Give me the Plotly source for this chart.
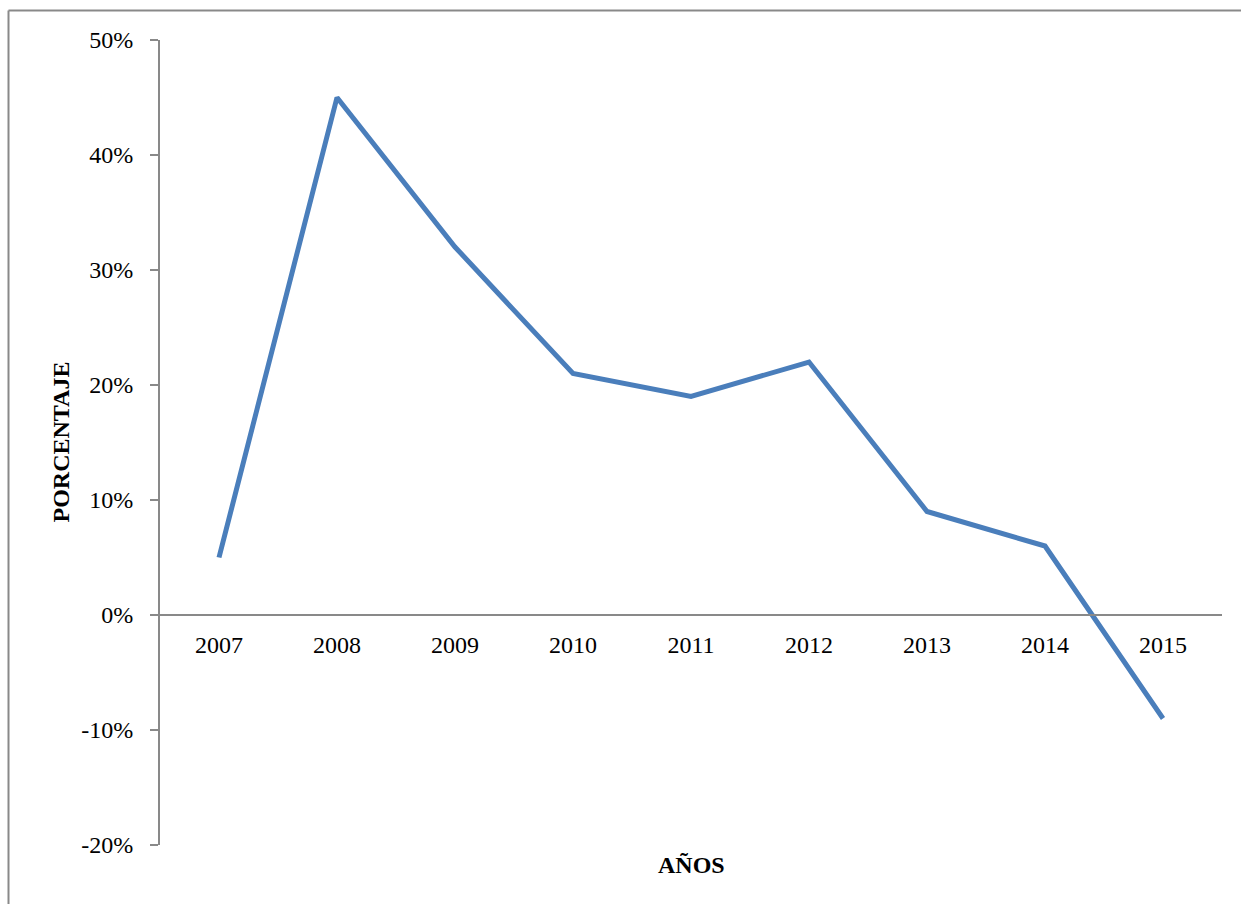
import plotly.graph_objects as go

years = ["2007", "2008", "2009", "2010", "2011", "2012", "2013", "2014", "2015"]
values = [0.05, 0.45, 0.32, 0.21, 0.19, 0.22, 0.09, 0.06, -0.09]
y_ticks = [-0.2, -0.1, 0.0, 0.1, 0.2, 0.3, 0.4, 0.5]
y_tick_labels = ["-20%", "-10%", "0%", "10%", "20%", "30%", "40%", "50%"]

FONT = "Times New Roman, Liberation Serif, serif"
GRAY = "#898989"

fig = go.Figure()
fig.add_trace(go.Scatter(
    x=years, y=values, mode="lines",
    line=dict(color="#4A7EBB", width=5),
    hoverinfo="skip", showlegend=False,
))

L, R, T, B = 160, 20, 40, 60
W, H = 1242, 905
pw, ph = W - L - R, H - T - B
zero_pos = (0 - (-0.2)) / 0.7

fig.update_layout(
    width=W, height=H,
    margin=dict(l=L, r=R, t=T, b=B, pad=0),
    paper_bgcolor="white", plot_bgcolor="white",
    font=dict(family=FONT, size=24, color="black"),
    xaxis=dict(
        type="category", range=[-0.5, 8.5],
        anchor="free", position=zero_pos,
        showline=True, linecolor=GRAY, linewidth=2,
        ticks="", showgrid=False, zeroline=False,
        tickfont=dict(family=FONT, size=24, color="black"),
        ticklabelstandoff=8,
    ),
    yaxis=dict(
        range=[-0.2, 0.5], tickvals=y_ticks, ticktext=y_tick_labels,
        showline=True, linecolor=GRAY, linewidth=2,
        ticks="outside", ticklen=8, tickcolor=GRAY, tickwidth=2,
        showgrid=False, zeroline=False,
        tickfont=dict(family=FONT, size=24, color="black"),
        ticklabelstandoff=12,
    ),
    annotations=[
        dict(text="<b>AÑOS</b>", x=0.5, y=(845 - 865) / ph, xref="paper", yref="paper",
             showarrow=False, font=dict(family=FONT, size=24, color="black"),
             xanchor="center", yanchor="middle"),
        dict(text="<b>PORCENTAJE</b>", x=(60 - L) / pw, y=0.5, xref="paper", yref="paper",
             showarrow=False, textangle=-90, font=dict(family=FONT, size=24, color="black"),
             xanchor="center", yanchor="middle"),
    ],
    shapes=[
        dict(type="line", xref="paper", yref="paper",
             x0=(8.5 - L) / pw, x1=(1241 - L) / pw,
             y0=(845 - 10.5) / ph, y1=(845 - 10.5) / ph,
             line=dict(color=GRAY, width=2), layer="below"),
        dict(type="line", xref="paper", yref="paper",
             x0=(8.5 - L) / pw, x1=(8.5 - L) / pw,
             y0=(845 - 10.5) / ph, y1=(845 - 904) / ph,
             line=dict(color=GRAY, width=2), layer="below"),
    ],
)

fig.write_html("out.html")
